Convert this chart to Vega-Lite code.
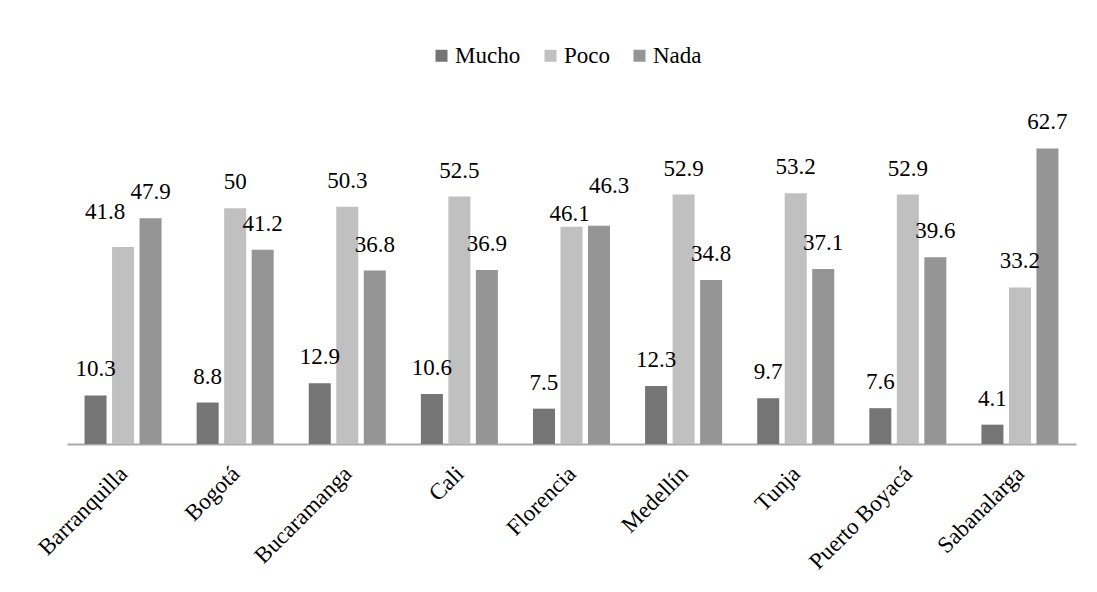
{
  "$schema": "https://vega.github.io/schema/vega-lite/v6.json",
  "width": 1009,
  "height": 330,
  "autosize": {"type": "none"},
  "padding": {"left": 67, "top": 114, "right": 21, "bottom": 148},
  "background": "#ffffff",
  "config": {"view": {"stroke": null}, "font": "Liberation Serif"},
  "data": {
    "values": [
      {"ciudad": "Barranquilla", "serie": "Mucho", "valor": 10.3},
      {"ciudad": "Barranquilla", "serie": "Poco", "valor": 41.8},
      {"ciudad": "Barranquilla", "serie": "Nada", "valor": 47.9},
      {"ciudad": "Bogotá", "serie": "Mucho", "valor": 8.8},
      {"ciudad": "Bogotá", "serie": "Poco", "valor": 50},
      {"ciudad": "Bogotá", "serie": "Nada", "valor": 41.2},
      {"ciudad": "Bucaramanga", "serie": "Mucho", "valor": 12.9},
      {"ciudad": "Bucaramanga", "serie": "Poco", "valor": 50.3},
      {"ciudad": "Bucaramanga", "serie": "Nada", "valor": 36.8},
      {"ciudad": "Cali", "serie": "Mucho", "valor": 10.6},
      {"ciudad": "Cali", "serie": "Poco", "valor": 52.5},
      {"ciudad": "Cali", "serie": "Nada", "valor": 36.9},
      {"ciudad": "Florencia", "serie": "Mucho", "valor": 7.5},
      {"ciudad": "Florencia", "serie": "Poco", "valor": 46.1},
      {"ciudad": "Florencia", "serie": "Nada", "valor": 46.3},
      {"ciudad": "Medellín", "serie": "Mucho", "valor": 12.3},
      {"ciudad": "Medellín", "serie": "Poco", "valor": 52.9},
      {"ciudad": "Medellín", "serie": "Nada", "valor": 34.8},
      {"ciudad": "Tunja", "serie": "Mucho", "valor": 9.7},
      {"ciudad": "Tunja", "serie": "Poco", "valor": 53.2},
      {"ciudad": "Tunja", "serie": "Nada", "valor": 37.1},
      {"ciudad": "Puerto Boyacá", "serie": "Mucho", "valor": 7.6},
      {"ciudad": "Puerto Boyacá", "serie": "Poco", "valor": 52.9},
      {"ciudad": "Puerto Boyacá", "serie": "Nada", "valor": 39.6},
      {"ciudad": "Sabanalarga", "serie": "Mucho", "valor": 4.1},
      {"ciudad": "Sabanalarga", "serie": "Poco", "valor": 33.2},
      {"ciudad": "Sabanalarga", "serie": "Nada", "valor": 62.7}
    ]
  },
  "encoding": {
    "x": {
      "field": "ciudad",
      "type": "nominal",
      "sort": ["Barranquilla", "Bogotá", "Bucaramanga", "Cali", "Florencia", "Medellín", "Tunja", "Puerto Boyacá", "Sabanalarga"],
      "scale": {"paddingInner": 0.313, "paddingOuter": 0.1565},
      "axis": {
        "title": null,
        "labelAngle": -45,
        "labelFontSize": 23,
        "labelColor": "#000000",
        "labelFont": "Liberation Serif",
        "ticks": false,
        "domainColor": "#aaaaaa",
        "domainWidth": 2,
        "labelPadding": 18,
        "labelOffset": -7
      }
    },
    "xOffset": {
      "field": "serie",
      "type": "nominal",
      "sort": ["Mucho", "Poco", "Nada"],
      "scale": {"paddingInner": 0.2, "paddingOuter": 0}
    },
    "y": {
      "field": "valor",
      "type": "quantitative",
      "scale": {"domain": [0, 70], "nice": false},
      "axis": null
    }
  },
  "layer": [
    {
      "mark": {"type": "bar"},
      "encoding": {
        "color": {
          "field": "serie",
          "type": "nominal",
          "sort": ["Mucho", "Poco", "Nada"],
          "scale": {"domain": ["Mucho", "Poco", "Nada"], "range": ["#757575", "#c0c0c0", "#959595"]},
          "legend": {
            "title": null,
            "orient": "none",
            "direction": "horizontal",
            "legendX": 363,
            "legendY": -70,
            "symbolType": "square",
            "symbolSize": 144,
            "symbolStrokeWidth": 0,
            "labelFontSize": 23,
            "labelFont": "Liberation Serif",
            "labelColor": "#000000",
            "labelOffset": 2,
            "columnPadding": 18
          }
        }
      }
    },
    {
      "transform": [{"filter": "!((datum.ciudad === 'Barranquilla' && datum.serie === 'Poco') || datum.ciudad === 'Florencia' && datum.serie !== 'Mucho')"}],
      "mark": {"type": "text", "baseline": "middle", "dy": -26, "fontSize": 23, "font": "Liberation Serif", "color": "#000000"},
      "encoding": {
        "text": {"field": "valor", "type": "quantitative"}
      }
    },
    {
      "transform": [{"filter": "datum.ciudad === 'Barranquilla' && datum.serie === 'Poco'"}],
      "mark": {"type": "text", "baseline": "middle", "dy": -35, "dx": -18, "fontSize": 23, "font": "Liberation Serif", "color": "#000000"},
      "encoding": {
        "text": {"field": "valor", "type": "quantitative"}
      }
    },
    {
      "transform": [{"filter": "datum.ciudad === 'Florencia' && datum.serie === 'Poco'"}],
      "mark": {"type": "text", "baseline": "middle", "dy": -13, "dx": -2, "fontSize": 23, "font": "Liberation Serif", "color": "#000000"},
      "encoding": {
        "text": {"field": "valor", "type": "quantitative"}
      }
    },
    {
      "transform": [{"filter": "datum.ciudad === 'Florencia' && datum.serie === 'Nada'"}],
      "mark": {"type": "text", "baseline": "middle", "dy": -40, "dx": 10, "fontSize": 23, "font": "Liberation Serif", "color": "#000000"},
      "encoding": {
        "text": {"field": "valor", "type": "quantitative"}
      }
    }
  ]
}
